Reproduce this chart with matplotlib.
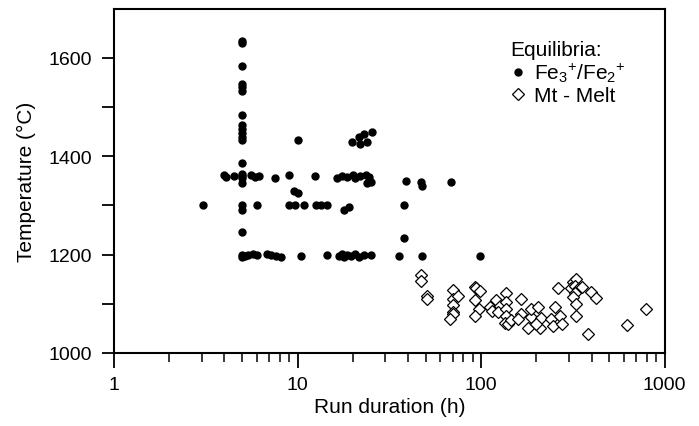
import numpy as np
import matplotlib
matplotlib.use("Agg")
import matplotlib.pyplot as plt
from matplotlib.lines import Line2D
from matplotlib.ticker import FixedLocator, LogLocator, NullFormatter

plt.rcParams['font.family'] = ['Liberation Sans', 'DejaVu Sans']
plt.rcParams['mathtext.fontset'] = 'custom'
plt.rcParams['mathtext.rm'] = 'Liberation Sans'
plt.rcParams['mathtext.it'] = 'Liberation Sans'

# ----- Fe3+/Fe2+ equilibria (run duration h, temperature C) -----
fe_hours = [5, 5, 5, 5, 5, 5, 5, 5, 5, 5, 5, 5, 5, 5, 5, 5, 5, 5, 5, 5, 5, 5,
            4.0, 4.1, 4.5, 5.6, 5.9, 6.2, 7.5, 9.0, 12.5, 16.5, 17.5, 18.5, 20, 20.5,
            22, 23.5, 24.5, 24, 25, 38.9, 47, 47.5, 68.5,
            9.6, 10.0,
            3.04, 6.0, 9.0, 9.7, 10.8, 12.6, 13.5, 14.5, 18, 19, 38,
            10, 19.8, 21.5, 22, 23, 24, 25.3, 38,
            5.2, 5.4, 5.7, 6.0, 6.8, 7.2, 7.6, 8.1, 10.5, 14.5, 16.8, 17.5, 18, 18.5,
            19.5, 20.5, 21.5, 23, 25, 35.6, 47.5, 98]
fe_temp = [1635, 1630, 1584, 1547, 1540, 1533, 1484, 1463, 1455, 1447, 1440, 1433,
           1386, 1365, 1360, 1355, 1345, 1300, 1290, 1247, 1200, 1195,
           1362, 1358, 1360, 1362, 1358, 1360, 1356, 1362, 1360, 1356, 1360, 1358, 1362, 1356,
           1360, 1362, 1358, 1345, 1347, 1349, 1347, 1339, 1347,
           1330, 1325,
           1300, 1300, 1300, 1300, 1300, 1300, 1300, 1300, 1290, 1296, 1300,
           1433, 1430, 1440, 1425, 1445, 1430, 1450, 1233,
           1198, 1200, 1202, 1200, 1202, 1200, 1198, 1196, 1198, 1200, 1198, 1202, 1195, 1200,
           1198, 1202, 1196, 1200, 1200, 1198, 1198, 1198]

# ----- Mt-Melt equilibria -----
mt_hours = [47, 47, 51, 51,
            70.6, 70.6, 70.6, 70.6, 70, 68, 74.5,
            93, 94, 99, 93, 97, 93,
            112, 114, 121, 127, 124,
            137, 137, 137, 137, 135, 140, 146,
            165, 165, 159,
            181, 188, 188, 205, 210, 212, 200,
            253, 241, 246, 262, 268, 275,
            316, 330, 310, 324, 337, 324, 316, 353, 330, 330,
            398, 424, 381,
            620, 790]
mt_temp = [1159, 1147, 1116, 1110,
           1129, 1110, 1098, 1084, 1080, 1069, 1116,
           1135, 1133, 1127, 1108, 1090, 1076,
           1094, 1086, 1108, 1096, 1084,
           1122, 1104, 1090, 1076, 1061, 1059, 1067,
           1110, 1080, 1069,
           1051, 1073, 1090, 1094, 1051, 1071, 1059,
           1094, 1069, 1055, 1133, 1076, 1059,
           1145, 1151, 1133, 1137, 1131, 1122, 1114, 1135, 1100, 1076,
           1124, 1112, 1039,
           1057, 1090]

x_ticks = [1, 10, 100, 1000]
x_labels = ['1', '10', '100', '1000']
y_ticks = [1000, 1100, 1200, 1300, 1400, 1500, 1600]
y_labels = ['1000', '', '1200', '', '1400', '', '1600']

fig = plt.figure(figsize=(6.99, 4.27), dpi=100)
ax = fig.add_axes([0.163, 0.171, 0.788, 0.806])

ax.plot(fe_hours, fe_temp, 'o', color='black', markersize=5, linestyle='none')
ax.plot(mt_hours, mt_temp, 'D', markerfacecolor='white', markeredgecolor='black',
        markeredgewidth=0.9, markersize=6.5, linestyle='none')

ax.set_xscale('log')
ax.set_xlim(1, 1000)
ax.set_ylim(1000, 1700)

ax.xaxis.set_major_locator(FixedLocator(x_ticks))
ax.set_xticklabels(x_labels)
ax.xaxis.set_minor_locator(LogLocator(base=10, subs=np.arange(2, 10)))
ax.xaxis.set_minor_formatter(NullFormatter())
ax.set_yticks(y_ticks)
ax.set_yticklabels(y_labels)

ax.tick_params(axis='x', which='major', direction='out', length=10.5, width=1.3, labelsize=14, pad=6)
ax.tick_params(axis='x', which='minor', direction='out', length=6.5, width=1.1)
ax.tick_params(axis='y', which='major', direction='out', length=9, width=1.3, labelsize=14, pad=7)
for s in ax.spines.values():
    s.set_linewidth(1.5)

ax.set_xlabel('Run duration (h)', fontsize=15, labelpad=3)
ax.set_ylabel('Temperature (\u00b0C)', fontsize=15, labelpad=9)

handles = [
    Line2D([], [], marker='o', color='black', linestyle='none', markersize=5),
    Line2D([], [], marker='D', markerfacecolor='white', markeredgecolor='black',
           markeredgewidth=0.9, linestyle='none', markersize=6.5),
]
labels = [r'Fe$_{3}$$^{+}$/Fe$_{2}$$^{+}$', 'Mt - Melt']
leg = ax.legend(handles, labels, title='Equilibria:', loc='upper left',
                bbox_to_anchor=(0.72, 0.91), frameon=False, fontsize=15,
                title_fontsize=15, handletextpad=0.45, handlelength=0.7,
                borderaxespad=0, borderpad=0, labelspacing=0.1)
leg._legend_box.align = 'left'

fig.savefig('out.png', dpi=100)
